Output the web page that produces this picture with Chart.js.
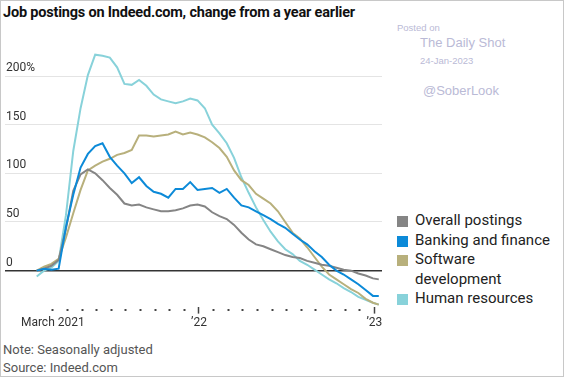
<!DOCTYPE html>
<html>
<head>
<meta charset="utf-8">
<script src="https://cdn.jsdelivr.net/npm/chart.js@4.4.1/dist/chart.umd.min.js"></script>
<style>
  body { margin: 0; background: #fff; }
  #frame { position: relative; width: 562px; height: 375px; border: 1px solid #c8c8c8; overflow: hidden; font-family: Roboto, sans-serif; }
  #title { position: absolute; left: 2px; top: 3px; font-weight: bold; font-size: 14.5px; color: #111; letter-spacing: -0.2px; white-space: nowrap; }
  .wm { position: absolute; font-family: "Liberation Sans", Arial, sans-serif; color: #babad6; white-space: nowrap; }
  #chartBox { position: absolute; left: 0; top: 28px; width: 384px; height: 310px; }
  #legend { position: absolute; left: 395px; top: 210px; font-size: 15px; color: #222; line-height: 19.5px; }
  #legend .item { position: relative; padding-left: 19px; }
  #legend .sw { position: absolute; left: 1px; top: 5px; width: 11px; height: 11px; }
  .note { position: absolute; left: 2px; font-size: 13px; color: #555; white-space: nowrap; }
</style>
</head>
<body>
<div id="frame">
  <div id="title">Job postings on Indeed.com, change from a year earlier</div>
  <div class="wm" style="left:396px; top:21px; font-size:9.5px;">Posted on</div>
  <div class="wm" style="left:419px; top:34px; font-size:13px;">The Daily Shot</div>
  <div class="wm" style="left:419px; top:54px; font-size:9.5px;">24-Jan-2023</div>
  <div class="wm" style="left:422px; top:82px; font-size:13px;">@SoberLook</div>
  <div id="chartBox"><canvas id="chart"></canvas></div>
  <div id="legend"></div>
  <div class="note" style="top:341px;">Note: Seasonally adjusted</div>
  <div class="note" style="top:359px;">Source: Indeed.com</div>
</div>
<script>
// months since Jan 2021 (2 = March 2021, 12 = Jan 2022, 24 = Jan 2023)
const months = [0.9, 1.4, 1.9, 2.4, 2.9, 3.4, 3.9, 4.4, 4.9, 5.4, 5.9, 6.4, 6.9, 7.4, 7.9, 8.4,
  8.9, 9.4, 9.9, 10.4, 10.9, 11.4, 11.9, 12.4, 12.9, 13.4, 13.9, 14.4, 14.9, 15.4, 15.9, 16.4,
  16.9, 17.4, 17.9, 18.4, 18.9, 19.4, 19.9, 20.4, 20.9, 21.4, 21.9, 22.4, 22.9, 23.4, 23.9, 24.3];

const overall = [0, 2, 5, 11, 43, 82, 99, 104, 100, 93, 85, 78, 69, 67, 68, 65,
  63, 61, 61, 62, 64, 67, 68, 66, 60, 56, 53, 47, 39, 32, 27, 25,
  22, 19, 16, 14, 13, 10, 8, 6, 5, 3, 1, 0, -3, -5, -8, -9];
const banking = [0, 2, 1, 2, 45, 78, 106, 120, 128, 131, 117, 108, 100, 90, 96, 87,
  81, 79, 75, 84, 84, 91, 83, 84, 85, 80, 84, 75, 67, 65, 61, 57,
  53, 48, 44, 38, 32, 27, 20, 14, 6, 0, -4, -9, -14, -20, -26, -26];
const software = [0, 4, 7, 12, 34, 59, 83, 103, 108, 112, 115, 119, 121, 124, 139, 139,
  138, 139, 140, 143, 140, 142, 140, 137, 132, 126, 117, 103, 93, 88, 79, 74,
  69, 61, 50, 39, 33, 24, 14, 4, -4, -9, -14, -19, -23, -29, -33, -35];
const human = [-6, 0, 3, 10, 57, 123, 167, 201, 222, 221, 219, 209, 192, 191, 196, 190,
  181, 176, 174, 172, 174, 177, 175, 167, 150, 141, 131, 116, 96, 80, 65, 52,
  40, 30, 22, 17, 10, 6, 1, -4, -9, -13, -18, -22, -27, -30, -33, -35];

const seriesNames = ['Overall postings', 'Banking and finance', 'Software<br>development', 'Human resources'];
const seriesColours = ['#858585', '#0c8ad8', '#b8b07c', '#88d2da'];
const yTicks = [0, 50, 100, 150, 200];
const xTickMonths = [2, 3, 4, 5, 6, 7, 8, 9, 10, 11, 12, 13, 14, 15, 16, 17, 18, 19, 20, 21, 22, 23, 24];
const xLabels = { 2: 'March 2021', 12: '\u201922', 24: '\u201923' };

// html legend (needs a wrapped label)
const legendEl = document.getElementById('legend');
seriesNames.forEach((name, i) => {
  legendEl.innerHTML += '<div class="item"><span class="sw" style="background:' + seriesColours[i] + '"></span>' + name + '</div>';
});

const toPoints = (vals) => vals.map((v, i) => ({ x: months[i], y: v }));

function line(label, vals, colour, order) {
  return {
    label: label,
    data: toPoints(vals),
    borderColor: colour,
    backgroundColor: colour,
    borderWidth: 2,
    pointRadius: 0,
    tension: 0,
    order: order
  };
}

new Chart(document.getElementById('chart'), {
  type: 'line',
  data: {
    datasets: [
      line('Overall postings', overall, seriesColours[0], 2),
      line('Banking and finance', banking, seriesColours[1], 1),
      line('Software development', software, seriesColours[2], 3),
      line('Human resources', human, seriesColours[3], 4)
    ]
  },
  options: {
    responsive: true,
    maintainAspectRatio: false,
    animation: false,
    layout: { padding: { top: 8, left: 2, right: 3, bottom: 7 } },
    plugins: { legend: { display: false }, tooltip: { enabled: false } },
    scales: {
      x: {
        type: 'linear',
        min: -1.27,
        max: 24.52,
        afterBuildTicks: (axis) => { axis.ticks = xTickMonths.map(v => ({ value: v })); },
        border: { display: false },
        grid: {
          drawOnChartArea: false,
          drawTicks: true,
          tickLength: 7,
          tickColor: '#444',
          tickWidth: (ctx) => (ctx.tick && xLabels[ctx.tick.value] && ctx.tick.value !== 2 ? 1.5 : 2),
          tickBorderDash: (ctx) => (ctx.tick && xLabels[ctx.tick.value] && ctx.tick.value !== 2 ? [] : [2, 20]),
          tickBorderDashOffset: -2
        },
        ticks: {
          autoSkip: false,
          maxRotation: 0,
          padding: 2,
          color: '#333',
          font: { family: 'Roboto', size: 12 },
          callback: (v) => xLabels[v] || ''
        }
      },
      y: {
        min: -37,
        max: 240,
        afterBuildTicks: (axis) => { axis.ticks = yTicks.map(v => ({ value: v })); },
        border: { display: false },
        grid: {
          drawTicks: false,
          color: (ctx) => (ctx.tick && ctx.tick.value === 0 ? '#333' : '#e4e4e4'),
          lineWidth: (ctx) => (ctx.tick && ctx.tick.value === 0 ? 1.5 : 1)
        },
        ticks: {
          mirror: true,
          padding: 1,
          labelOffset: -8,
          color: '#333',
          font: { family: 'Roboto', size: 12 },
          callback: (v) => (v === 200 ? '200%' : String(v))
        }
      }
    }
  }
});
</script>
</body>
</html>
